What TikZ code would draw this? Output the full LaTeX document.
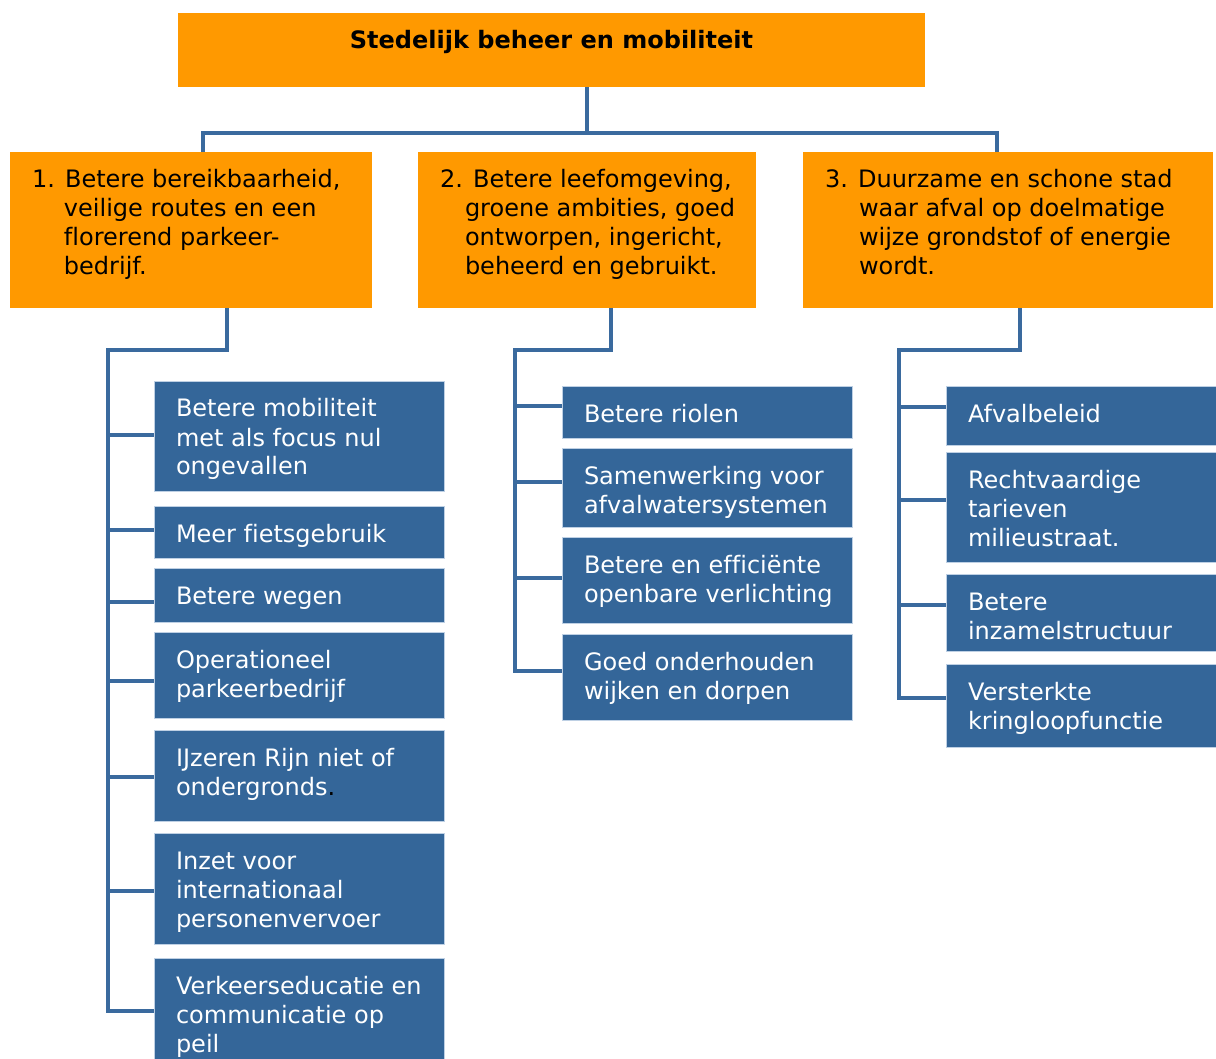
\documentclass[tikz,border=0pt]{standalone}
\usepackage{fontspec}
\setmainfont{DejaVu Sans}[Ligatures=NoCommon]
\definecolor{orng}{RGB}{255,153,0}
\definecolor{boxblue}{RGB}{52,102,153}
\definecolor{lineblue}{RGB}{58,106,158}
\definecolor{edgeblue}{RGB}{190,208,228}
\newcommand\bx[3]{\parbox[t][#2pt][t]{#1pt}{\raggedright\leftskip=22pt\relax\rule{0pt}{36pt}#3}}
\newcommand\gx[4]{\parbox[t][#2pt][t]{#1pt}{\raggedright\leftskip=\dimexpr22pt+#3pt\relax\hspace*{-#3pt}\rule{0pt}{36pt}#4}}
\tikzset{
  base/.style={anchor=north west, inner sep=0pt, outer sep=0pt, font=\fontsize{24}{29}\selectfont},
  topbox/.style={base, fill=orng, text=black},
  goal/.style={base, fill=orng, text=black},
  leaf/.style={base, fill=boxblue, draw=edgeblue, line width=0.8pt, text=white},
  conn/.style={draw=lineblue, line width=3.5pt, line join=miter},
}
\begin{document}
\begin{tikzpicture}[x=1pt,y=-1pt]
\useasboundingbox (0,0) rectangle (1216,1059);
\clip (0,0) rectangle (1216,1059);
\fill[white] (0,0) rectangle (1216,1059);

% top
\node[topbox] (top) at (178,13) {\parbox[t][74pt][t]{747pt}{\centering\bfseries\rule{0pt}{36pt}Stedelijk beheer en mobiliteit}};

% goals
\node[goal] (b1) at (10,152) {\gx{362}{156}{32}{1. Betere bereikbaarheid,\newline veilige routes en een\newline florerend parkeer-\newline bedrijf.}};
\node[goal] (b2) at (418,152) {\gx{338}{156}{25}{2. Betere leefomgeving,\newline groene ambities, goed\newline ontworpen, ingericht,\newline beheerd en gebruikt.}};
\node[goal] (b3) at (803,152) {\gx{410}{156}{34}{3. Duurzame en schone stad\newline waar afval op doelmatige\newline wijze grondstof of energie\newline wordt.}};

% column 1
\node[leaf] (c11) at (154,381) {\bx{290}{110}{Betere mobiliteit\\met als focus nul\\ongevallen}};
\node[leaf] (c12) at (154,506) {\bx{290}{52}{Meer fietsgebruik}};
\node[leaf] (c13) at (154,568) {\bx{290}{54}{Betere wegen}};
\node[leaf] (c14) at (154,632) {\bx{290}{86}{Operationeel\\parkeerbedrijf}};
\node[leaf] (c15) at (154,730) {\bx{290}{91}{IJzeren Rijn niet of\\ondergronds\textcolor{black}{.}}};
\node[leaf] (c16) at (154,833) {\bx{290}{111}{Inzet voor\\internationaal\\personenvervoer}};
\node[leaf] (c17) at (154,958) {\bx{290}{115}{Verkeerseducatie en\\communicatie op\\peil}};

% column 2
\node[leaf] (c21) at (562,386) {\bx{290}{52}{Betere riolen}};
\node[leaf] (c22) at (562,448) {\bx{290}{79}{Samenwerking voor\\afvalwatersystemen}};
\node[leaf] (c23) at (562,537) {\bx{290}{86}{Betere en efficiënte\\openbare verlichting}};
\node[leaf] (c24) at (562,634) {\bx{290}{86}{Goed onderhouden\\wijken en dorpen}};

% column 3
\node[leaf] (c31) at (946,386) {\bx{280}{59}{Afvalbeleid}};
\node[leaf] (c32) at (946,452) {\bx{280}{110}{Rechtvaardige\\tarieven\\milieustraat.}};
\node[leaf] (c33) at (946,574) {\bx{280}{77}{Betere\\inzamelstructuur}};
\node[leaf] (c34) at (946,664) {\bx{280}{83}{Versterkte\\kringloopfunctie}};

% top connectors
\coordinate (bm) at (587,133);
\coordinate (bl) at (203,133);
\coordinate (br) at (997,133);
\draw[conn] (top.south -| bm) -- (bm);
\draw[conn] (b1.north -| bl) -- (bl) -- (br) -- (b3.north -| br);

% column 1 connectors
\coordinate (d1) at (227,350);
\coordinate (s1) at (108,350);
\draw[conn] (b1.south -| d1) -- (d1) -- (s1) -- (s1 |- 0,1011) -- (c17.west |- 0,1011);
\draw[conn] (s1 |- 0,435) -- (c11.west |- 0,435);
\draw[conn] (s1 |- 0,530) -- (c12.west |- 0,530);
\draw[conn] (s1 |- 0,602) -- (c13.west |- 0,602);
\draw[conn] (s1 |- 0,681) -- (c14.west |- 0,681);
\draw[conn] (s1 |- 0,777) -- (c15.west |- 0,777);
\draw[conn] (s1 |- 0,891) -- (c16.west |- 0,891);

% column 2 connectors
\coordinate (d2) at (611,350);
\coordinate (s2) at (515,350);
\draw[conn] (b2.south -| d2) -- (d2) -- (s2) -- (s2 |- 0,671) -- (c24.west |- 0,671);
\draw[conn] (s2 |- 0,406) -- (c21.west |- 0,406);
\draw[conn] (s2 |- 0,482) -- (c22.west |- 0,482);
\draw[conn] (s2 |- 0,578) -- (c23.west |- 0,578);

% column 3 connectors
\coordinate (d3) at (1020,350);
\coordinate (s3) at (899,350);
\draw[conn] (b3.south -| d3) -- (d3) -- (s3) -- (s3 |- 0,698) -- (c34.west |- 0,698);
\draw[conn] (s3 |- 0,407) -- (c31.west |- 0,407);
\draw[conn] (s3 |- 0,500) -- (c32.west |- 0,500);
\draw[conn] (s3 |- 0,605) -- (c33.west |- 0,605);
\end{tikzpicture}
\end{document}
